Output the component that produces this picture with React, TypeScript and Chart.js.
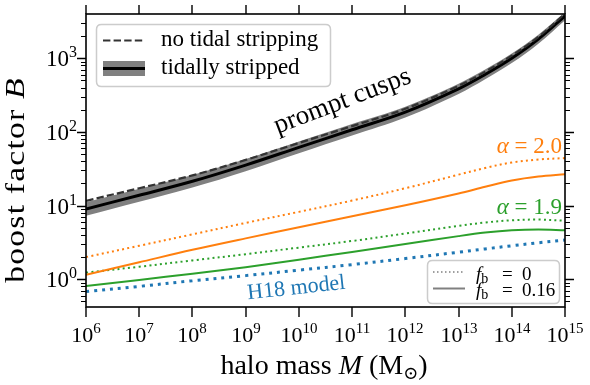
import React, { useEffect, useRef } from "react";
import { Chart, registerables } from "chart.js";

Chart.register(...registerables);

// ---------- data ----------
const MASS = [1e6, 1e7, 1e8, 1e9, 1e10, 1e11, 1e12, 1e13, 3.16e13, 1e14, 3.16e14, 1e15];

const PROMPT_STRIPPED = [9.0, 13.8, 21.4, 35.5, 61.7, 107, 186, 385, 603, 1000, 1820, 3750];
const PROMPT_STRIPPED_HI = [11.1, 16.9, 26.1, 43.0, 74.3, 128, 220, 452, 703, 1160, 2090, 4230];
const PROMPT_STRIPPED_LO = [7.3, 11.3, 17.6, 29.3, 51.3, 89.3, 157, 328, 518, 861, 1580, 3290];
const PROMPT_NO_TIDAL = [11.6, 17.2, 25.7, 41.7, 70.8, 120, 206, 423, 656, 1084, 1950, 4020];

const ALPHA20_FB0 = [2.0, 2.85, 4.07, 5.82, 8.22, 11.7, 17.2, 26.3, 32.4, 38.5, 42.2, 44.2];
const ALPHA20_FB016 = [1.15, 1.70, 2.51, 3.59, 5.07, 7.16, 10.1, 14.6, 18.0, 21.9, 24.8, 26.6];
const ALPHA19_FB0 = [1.23, 1.48, 1.80, 2.19, 2.69, 3.31, 4.17, 5.30, 5.90, 6.31, 6.46, 6.24];
const ALPHA19_FB016 = [0.81, 0.98, 1.19, 1.46, 1.84, 2.35, 3.00, 3.85, 4.30, 4.62, 4.73, 4.62];
const H18_MODEL = [0.68, 0.80, 0.955, 1.12, 1.33, 1.58, 1.91, 2.33, 2.58, 2.85, 3.13, 3.41];

const X_TICKS = [1e6, 1e7, 1e8, 1e9, 1e10, 1e11, 1e12, 1e13, 1e14, 1e15];
const X_TICK_EXP = ["6", "7", "8", "9", "10", "11", "12", "13", "14", "15"];
const Y_TICKS = [1, 10, 100, 1000];
const Y_TICK_EXP = ["0", "1", "2", "3"];
const X_MIN = 1e6;
const X_MAX = 1e15;
const Y_MIN = 0.42;
const Y_MAX = 3990;

const ORANGE = "#ff7f0e";
const GREEN = "#2ca02c";
const BLUE = "#1f77b4";
const GREY = "#808080";

// ---------- helpers ----------
const SERIF = '"Liberation Serif", "DejaVu Serif", serif';
const fnt = (size: number, italic = false) => `${italic ? "italic " : ""}${size}px ${SERIF}`;

type Part = { t: string; size: number; italic?: boolean; dy?: number };

function richWidth(ctx: CanvasRenderingContext2D, parts: Part[]) {
  let w = 0;
  for (const p of parts) {
    ctx.font = fnt(p.size, p.italic);
    w += ctx.measureText(p.t).width;
  }
  return w;
}

function drawRich(
  ctx: CanvasRenderingContext2D,
  parts: Part[],
  x: number,
  y: number,
  align: "left" | "center" | "right",
  color: string
) {
  const w = richWidth(ctx, parts);
  let cx = align === "left" ? x : align === "center" ? x - w / 2 : x - w;
  ctx.fillStyle = color;
  ctx.textAlign = "left";
  ctx.textBaseline = "alphabetic";
  for (const p of parts) {
    ctx.font = fnt(p.size, p.italic);
    ctx.fillText(p.t, cx, y + (p.dy || 0));
    cx += ctx.measureText(p.t).width;
  }
}

function roundRect(ctx: CanvasRenderingContext2D, x: number, y: number, w: number, h: number, r: number) {
  ctx.beginPath();
  ctx.moveTo(x + r, y);
  ctx.lineTo(x + w - r, y);
  ctx.quadraticCurveTo(x + w, y, x + w, y + r);
  ctx.lineTo(x + w, y + h - r);
  ctx.quadraticCurveTo(x + w, y + h, x + w - r, y + h);
  ctx.lineTo(x + r, y + h);
  ctx.quadraticCurveTo(x, y + h, x, y + h - r);
  ctx.lineTo(x, y + r);
  ctx.quadraticCurveTo(x, y, x + r, y);
  ctx.closePath();
}

const decorPlugin = {
  id: "decor",
  afterDraw(chart: any) {
    const ctx: CanvasRenderingContext2D = chart.ctx;
    const { left, right, top, bottom } = chart.chartArea;
    const xs = chart.scales.x;
    const ys = chart.scales.y;
    ctx.save();

    // spines
    ctx.strokeStyle = "#000";
    ctx.lineWidth = 1.6;
    ctx.strokeRect(left, top, right - left, bottom - top);

    // x ticks
    ctx.lineWidth = 1.4;
    X_TICKS.forEach((v, i) => {
      const px = Math.round(xs.getPixelForValue(v));
      ctx.beginPath();
      ctx.moveTo(px, bottom);
      ctx.lineTo(px, bottom + 10);
      ctx.moveTo(px, top);
      ctx.lineTo(px, top - 9);
      ctx.stroke();
      drawRich(
        ctx,
        [
          { t: "10", size: 22 },
          { t: X_TICK_EXP[i], size: 15, dy: -9 },
        ],
        px,
        342,
        "center",
        "#000"
      );
    });

    // y ticks (major + minor)
    Y_TICKS.forEach((v, i) => {
      const py = Math.round(ys.getPixelForValue(v)) + 0.5;
      ctx.lineWidth = 1.4;
      ctx.beginPath();
      ctx.moveTo(left, py);
      ctx.lineTo(left - 9, py);
      ctx.moveTo(right, py);
      ctx.lineTo(right + 9, py);
      ctx.stroke();
      drawRich(
        ctx,
        [
          { t: "10", size: 23 },
          { t: Y_TICK_EXP[i], size: 16, dy: -9 },
        ],
        77,
        py + 7,
        "right",
        "#000"
      );
    });
    ctx.lineWidth = 1;
    for (let k = -1; k <= 3; k++) {
      for (let m = 2; m <= 9; m++) {
        const v = m * Math.pow(10, k);
        if (v < Y_MIN || v > Y_MAX) continue;
        const py = Math.round(ys.getPixelForValue(v)) + 0.5;
        ctx.beginPath();
        ctx.moveTo(left, py);
        ctx.lineTo(left - 5, py);
        ctx.moveTo(right, py);
        ctx.lineTo(right + 5, py);
        ctx.stroke();
      }
    }

    // axis labels
    drawRich(
      ctx,
      [
        { t: "halo mass ", size: 28 },
        { t: "M", size: 28, italic: true },
        { t: " (M", size: 28 },
        { t: "\u2299", size: 18, dy: 5 },
        { t: ")", size: 28 },
      ],
      324,
      374,
      "center",
      "#000"
    );
    ctx.save();
    ctx.translate(24, 180);
    ctx.rotate(-Math.PI / 2);
    ctx.scale(1.2, 1);
    (ctx as any).letterSpacing = "1px";
    drawRich(
      ctx,
      [
        { t: "boost factor ", size: 28 },
        { t: "B", size: 28, italic: true },
      ],
      0,
      0,
      "center",
      "#000"
    );
    (ctx as any).letterSpacing = "0px";
    ctx.restore();

    // annotations
    ctx.save();
    ctx.translate(345, 108);
    ctx.rotate((-20.9 * Math.PI) / 180);
    drawRich(ctx, [{ t: "prompt cusps", size: 27 }], 0, 0, "center", "#000");
    ctx.restore();

    drawRich(
      ctx,
      [
        { t: "\u03b1", size: 23, italic: true },
        { t: " = 2.0", size: 23 },
      ],
      562,
      153,
      "right",
      ORANGE
    );
    drawRich(
      ctx,
      [
        { t: "\u03b1", size: 23, italic: true },
        { t: " = 1.9", size: 23 },
      ],
      562,
      214,
      "right",
      GREEN
    );
    ctx.save();
    ctx.translate(297, 294);
    ctx.rotate((-6.2 * Math.PI) / 180);
    drawRich(ctx, [{ t: "H18 model", size: 22 }], 0, 0, "center", BLUE);
    ctx.restore();

    // legend 1
    roundRect(ctx, 96.5, 24.5, 234, 62, 5);
    ctx.fillStyle = "rgba(255,255,255,0.85)";
    ctx.fill();
    ctx.strokeStyle = "#cccccc";
    ctx.lineWidth = 1.5;
    ctx.stroke();

    ctx.strokeStyle = "#333333";
    ctx.lineWidth = 2.2;
    ctx.setLineDash([7.4, 3.2]);
    ctx.beginPath();
    ctx.moveTo(103, 40.5);
    ctx.lineTo(145, 40.5);
    ctx.stroke();
    ctx.setLineDash([]);

    ctx.fillStyle = GREY;
    ctx.fillRect(103, 61, 42, 15);
    ctx.strokeStyle = "#000";
    ctx.lineWidth = 3;
    ctx.beginPath();
    ctx.moveTo(103, 68.5);
    ctx.lineTo(145, 68.5);
    ctx.stroke();

    drawRich(ctx, [{ t: "no tidal stripping", size: 23 }], 161, 46, "left", "#000");
    drawRich(ctx, [{ t: "tidally stripped", size: 23 }], 161, 74, "left", "#000");

    // legend 2
    roundRect(ctx, 427.5, 260.5, 132, 43, 5);
    ctx.fillStyle = "rgba(255,255,255,0.85)";
    ctx.fill();
    ctx.strokeStyle = "#cccccc";
    ctx.lineWidth = 1.5;
    ctx.stroke();

    ctx.strokeStyle = GREY;
    ctx.lineWidth = 1.5;
    ctx.setLineDash([1.5, 2.5]);
    ctx.beginPath();
    ctx.moveTo(433, 272);
    ctx.lineTo(463, 272);
    ctx.stroke();
    ctx.setLineDash([]);
    ctx.lineWidth = 2;
    ctx.beginPath();
    ctx.moveTo(433, 288.5);
    ctx.lineTo(465, 288.5);
    ctx.stroke();

    const fbRow = (val: string, y: number) => {
      drawRich(
        ctx,
        [
          { t: "f", size: 19, italic: true },
          { t: "b", size: 14, dy: 3 },
        ],
        476,
        y,
        "left",
        "#000"
      );
      drawRich(ctx, [{ t: "=", size: 19 }], 502, y, "left", "#000");
      drawRich(ctx, [{ t: val, size: 19 }], 522, y, "left", "#000");
    };
    fbRow("0", 280);
    fbRow("0.16", 296);

    ctx.restore();
  },
};

function series(values: number[]) {
  return values.map((y, i) => ({ x: MASS[i], y }));
}

export default function App() {
  const ref = useRef<HTMLCanvasElement | null>(null);

  useEffect(() => {
    const canvas = ref.current;
    if (!canvas) return;
    const common = {
      pointRadius: 0,
      pointHoverRadius: 0,
      tension: 0.35,
      fill: false,
    };
    const chart = new Chart(canvas, {
      type: "line",
      data: {
        datasets: [
          {
            ...common,
            label: "band upper",
            data: series(PROMPT_STRIPPED_HI),
            borderWidth: 0,
            borderColor: "rgba(0,0,0,0)",
            order: 10,
          },
          {
            ...common,
            label: "tidally stripped band",
            data: series(PROMPT_STRIPPED_LO),
            borderWidth: 0,
            borderColor: "rgba(0,0,0,0)",
            backgroundColor: GREY,
            fill: "-1",
            order: 9,
          },
          {
            ...common,
            label: "tidally stripped",
            data: series(PROMPT_STRIPPED),
            borderColor: "#000",
            borderWidth: 3,
            order: 3,
          },
          {
            ...common,
            label: "no tidal stripping",
            data: series(PROMPT_NO_TIDAL),
            borderColor: "#333333",
            borderWidth: 2.2,
            borderDash: [7.4, 3.2],
            order: 2,
          },
          {
            ...common,
            label: "alpha 2.0 fb 0",
            data: series(ALPHA20_FB0),
            borderColor: ORANGE,
            borderWidth: 2,
            borderDash: [2, 3.3],
            borderCapStyle: "butt",
            order: 4,
          },
          {
            ...common,
            label: "alpha 2.0 fb 0.16",
            data: series(ALPHA20_FB016),
            borderColor: ORANGE,
            borderWidth: 2,
            order: 4,
          },
          {
            ...common,
            label: "alpha 1.9 fb 0",
            data: series(ALPHA19_FB0),
            borderColor: GREEN,
            borderWidth: 2,
            borderDash: [2, 3.3],
            borderCapStyle: "butt",
            order: 4,
          },
          {
            ...common,
            label: "alpha 1.9 fb 0.16",
            data: series(ALPHA19_FB016),
            borderColor: GREEN,
            borderWidth: 2,
            order: 4,
          },
          {
            ...common,
            label: "H18 model",
            data: series(H18_MODEL),
            borderColor: BLUE,
            borderWidth: 3,
            borderDash: [3, 5],
            borderCapStyle: "butt",
            order: 4,
          },
        ],
      },
      options: {
        animation: false,
        responsive: false,
        maintainAspectRatio: false,
        events: [],
        layout: { padding: { left: 0, right: 25, top: 14, bottom: 0 } },
        plugins: {
          legend: { display: false },
          tooltip: { enabled: false },
        },
        scales: {
          x: {
            type: "logarithmic",
            min: X_MIN,
            max: X_MAX,
            ticks: { display: false },
            grid: { display: false },
            border: { display: false },
            afterFit: (s: any) => {
              s.height = 78;
            },
          },
          y: {
            type: "logarithmic",
            min: Y_MIN,
            max: Y_MAX,
            ticks: { display: false },
            grid: { display: false },
            border: { display: false },
            afterFit: (s: any) => {
              s.width = 86;
            },
          },
        },
      },
      plugins: [decorPlugin],
    });
    return () => chart.destroy();
  }, []);

  return (
    <div style={{ position: "fixed", left: 0, top: 0, width: 590, height: 385, background: "#fff" }}>
      <canvas ref={ref} width={590} height={385} style={{ width: 590, height: 385, display: "block" }} />
    </div>
  );
}
